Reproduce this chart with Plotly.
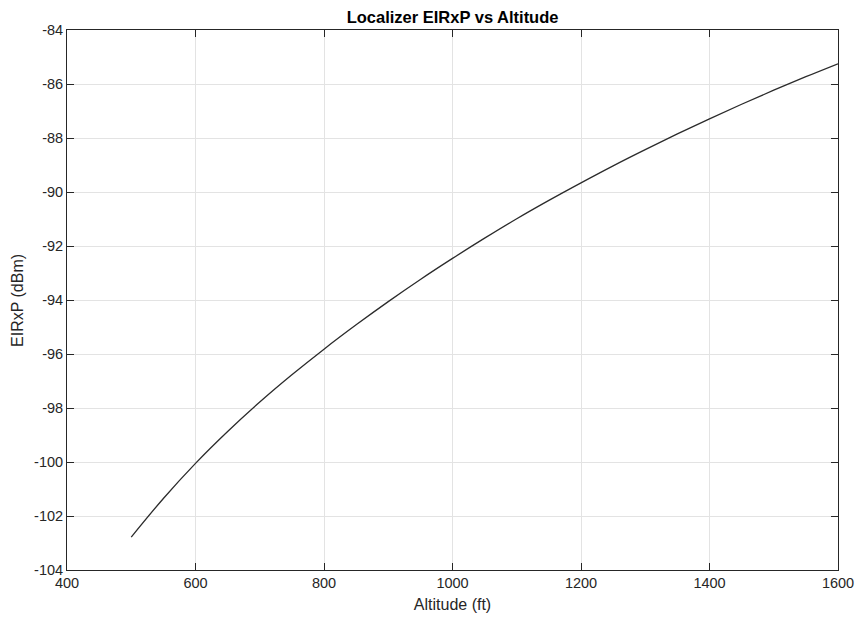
import plotly.graph_objects as go

altitude_ft = [500, 550, 600, 650, 700, 750, 800, 850, 900, 950, 1000,
               1050, 1100, 1150, 1200, 1250, 1300, 1350, 1400, 1450, 1500, 1550, 1600]
eirxp_dbm = [-102.78, -101.35, -100.05, -98.87, -97.78, -96.77, -95.82, -94.92, -94.06,
             -93.24, -92.46, -91.71, -90.99, -90.31, -89.66, -89.03, -88.43, -87.85,
             -87.29, -86.75, -86.23, -85.73, -85.25]

x_ticks = [400, 600, 800, 1000, 1200, 1400, 1600]
y_ticks = [-104, -102, -100, -98, -96, -94, -92, -90, -88, -86, -84]

font_family = "Liberation Sans, Arial, Helvetica, sans-serif"
axis_color = "#262626"
grid_color = "#e3e3e3"

fig = go.Figure()
fig.add_trace(go.Scatter(
    x=altitude_ft, y=eirxp_dbm, mode="lines",
    line=dict(color="#2b2b2b", width=1.3, shape="spline", smoothing=1.0),
    showlegend=False,
))

common = dict(
    showline=True, linecolor=axis_color, linewidth=1, mirror="ticks",
    ticks="inside", ticklen=7, tickcolor=axis_color, tickwidth=1,
    showgrid=True, gridcolor=grid_color, gridwidth=1, zeroline=False,
    automargin=False,
    tickfont=dict(family=font_family, size=14.5, color=axis_color),
)

fig.update_layout(
    width=856, height=622,
    margin=dict(l=67, r=18, t=30, b=52),
    paper_bgcolor="white", plot_bgcolor="white",
    title=dict(text="<b>Localizer EIRxP vs Altitude</b>", x=0.5287, xanchor="center",
               y=0.973, yanchor="middle",
               font=dict(family=font_family, size=16.5, color="#000000")),
    xaxis=dict(range=[400, 1600], tickvals=x_ticks, ticktext=[str(v) for v in x_ticks],
               title=dict(text="Altitude (ft)", standoff=8,
                          font=dict(family=font_family, size=16, color=axis_color)),
               **common),
    yaxis=dict(range=[-104, -84], tickvals=y_ticks, ticktext=[str(v) for v in y_ticks],
               **common),
    annotations=[dict(
        text="EIRxP (dBm)", textangle=-90, showarrow=False,
        xref="paper", yref="paper", x=-0.0649, y=0.5,
        xanchor="center", yanchor="middle",
        font=dict(family=font_family, size=16, color=axis_color),
    )],
)

fig.write_html("out.html")
